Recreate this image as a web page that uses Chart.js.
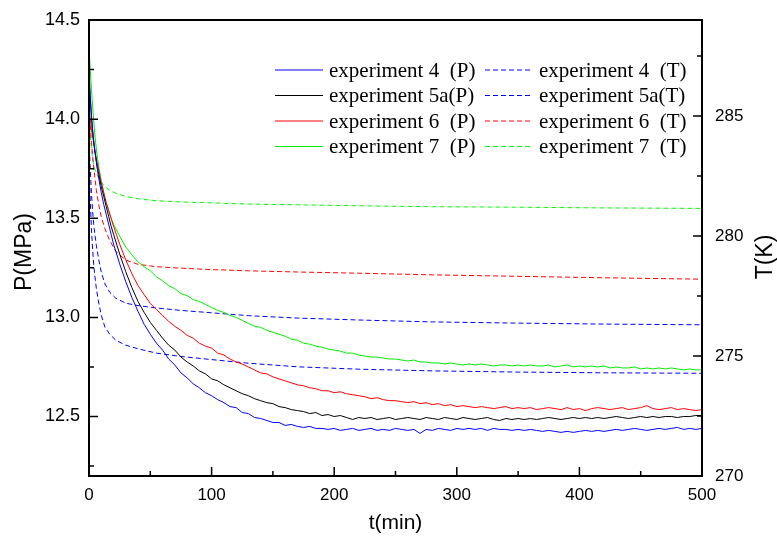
<!DOCTYPE html>
<html>
<head>
<meta charset="utf-8">
<script src="https://cdn.jsdelivr.net/npm/chart.js@4.4.1/dist/chart.umd.min.js"></script>
<style>
  body { margin: 0; background: #fff; }
  canvas { display: block; }
</style>
</head>
<body>
<canvas id="grafico" width="777" height="539"></canvas>
<script>
// tiempos de presion (min)
let tP = [0, 1, 2, 3, 4, 5, 6, 7, 8, 10, 12, 14, 16, 18,
  20, 25, 30, 35, 40, 45, 50, 55, 60, 65, 70, 75, 80, 85, 90, 95,
  100, 105, 110, 115, 120, 125, 130, 135, 140, 145, 150, 155, 160, 165, 170, 175, 180, 185, 190, 195,
  200, 205, 210, 215, 220, 225, 230, 235, 240, 245, 250, 255, 260, 265, 270, 275, 280, 285, 290, 295,
  300, 305, 310, 315, 320, 325, 330, 335, 340, 345, 350, 355, 360, 365, 370, 375, 380, 385, 390, 395,
  400, 405, 410, 415, 420, 425, 430, 435, 440, 445, 450, 455, 460, 465, 470, 475, 480, 485, 490, 495, 500];

// P (MPa)
let p4 = [14.25, 14.12, 14.02, 13.94, 13.88, 13.83, 13.78, 13.74, 13.70, 13.63, 13.57, 13.52, 13.47, 13.42,
  13.37, 13.27, 13.18, 13.10, 13.03, 12.965, 12.915, 12.87, 12.835, 12.79, 12.76, 12.72, 12.695, 12.665, 12.645, 12.62,
  12.605, 12.585, 12.57, 12.55, 12.545, 12.52, 12.515, 12.495, 12.49, 12.48, 12.47, 12.47, 12.455, 12.46, 12.45, 12.445, 12.45, 12.44, 12.44, 12.435,
  12.44, 12.43, 12.435, 12.44, 12.43, 12.435, 12.44, 12.43, 12.435, 12.43, 12.44, 12.435, 12.43, 12.435, 12.415, 12.435, 12.43, 12.44, 12.435, 12.43,
  12.44, 12.435, 12.44, 12.435, 12.44, 12.43, 12.44, 12.435, 12.435, 12.43, 12.435, 12.43, 12.435, 12.43, 12.425, 12.43, 12.425, 12.42, 12.425, 12.42,
  12.425, 12.43, 12.425, 12.43, 12.425, 12.43, 12.435, 12.43, 12.435, 12.44, 12.435, 12.43, 12.435, 12.44, 12.435, 12.44, 12.445, 12.435, 12.44, 12.435, 12.44];

let p5a = [14.20, 14.10, 14.01, 13.94, 13.88, 13.83, 13.79, 13.75, 13.72, 13.66, 13.61, 13.56, 13.51, 13.46,
  13.42, 13.32, 13.23, 13.15, 13.08, 13.025, 12.975, 12.935, 12.895, 12.86, 12.835, 12.80, 12.775, 12.755, 12.73, 12.715,
  12.69, 12.68, 12.66, 12.645, 12.63, 12.615, 12.605, 12.59, 12.58, 12.57, 12.565, 12.55, 12.545, 12.535, 12.53, 12.525, 12.515, 12.52, 12.505, 12.51,
  12.50, 12.505, 12.495, 12.485, 12.495, 12.49, 12.495, 12.485, 12.49, 12.495, 12.485, 12.49, 12.495, 12.49, 12.485, 12.495, 12.49, 12.485, 12.495, 12.49,
  12.485, 12.495, 12.49, 12.485, 12.49, 12.495, 12.485, 12.48, 12.49, 12.485, 12.49, 12.485, 12.49, 12.485, 12.49, 12.495, 12.49, 12.485, 12.49, 12.495,
  12.49, 12.495, 12.49, 12.495, 12.49, 12.495, 12.50, 12.495, 12.49, 12.495, 12.50, 12.495, 12.50, 12.495, 12.50, 12.50, 12.495, 12.50, 12.50, 12.505, 12.505];

let p6 = [14.05, 14.00, 13.95, 13.91, 13.87, 13.83, 13.80, 13.77, 13.74, 13.68, 13.63, 13.58, 13.54, 13.50,
  13.46, 13.37, 13.29, 13.22, 13.16, 13.115, 13.07, 13.04, 13.01, 12.98, 12.955, 12.935, 12.91, 12.895, 12.87, 12.855,
  12.845, 12.82, 12.81, 12.79, 12.775, 12.765, 12.75, 12.735, 12.72, 12.715, 12.70, 12.69, 12.68, 12.67, 12.66, 12.655, 12.645, 12.64, 12.63, 12.63,
  12.62, 12.625, 12.615, 12.61, 12.605, 12.60, 12.59, 12.595, 12.585, 12.58, 12.58, 12.575, 12.57, 12.575, 12.565, 12.57, 12.56, 12.565, 12.555, 12.56,
  12.55, 12.555, 12.55, 12.545, 12.55, 12.545, 12.54, 12.545, 12.55, 12.54, 12.545, 12.54, 12.545, 12.535, 12.54, 12.545, 12.54, 12.535, 12.545, 12.535,
  12.54, 12.53, 12.54, 12.545, 12.54, 12.535, 12.54, 12.545, 12.535, 12.54, 12.545, 12.555, 12.54, 12.535, 12.54, 12.545, 12.535, 12.54, 12.535, 12.53, 12.535];

let p7 = [14.37, 14.25, 14.15, 14.06, 13.98, 13.91, 13.85, 13.80, 13.76, 13.69, 13.63, 13.58, 13.54, 13.50,
  13.47, 13.41, 13.355, 13.315, 13.28, 13.255, 13.235, 13.205, 13.185, 13.16, 13.145, 13.12, 13.11, 13.09, 13.08, 13.065,
  13.05, 13.035, 13.025, 13.01, 13.00, 12.985, 12.97, 12.955, 12.95, 12.935, 12.925, 12.915, 12.905, 12.89, 12.885, 12.87, 12.865, 12.855, 12.85, 12.84,
  12.835, 12.83, 12.82, 12.82, 12.81, 12.805, 12.80, 12.80, 12.795, 12.79, 12.79, 12.785, 12.78, 12.785, 12.775, 12.775, 12.77, 12.77, 12.765, 12.77,
  12.765, 12.76, 12.765, 12.76, 12.765, 12.76, 12.755, 12.76, 12.76, 12.755, 12.76, 12.755, 12.76, 12.755, 12.755, 12.76, 12.75, 12.755, 12.76, 12.75,
  12.755, 12.75, 12.755, 12.75, 12.755, 12.745, 12.75, 12.745, 12.745, 12.75, 12.74, 12.745, 12.74, 12.745, 12.74, 12.745, 12.74, 12.735, 12.74, 12.735, 12.735];

// tiempos de temperatura (min)
let tT = [0, 1, 2, 3, 4, 6, 8, 10, 13, 17, 22, 30, 40, 55, 75, 100, 130, 170, 220, 280, 350, 420, 500];

// T (K)
let T4 = [283.0, 281.5, 280.3, 279.4, 278.7, 277.8, 277.2, 276.7, 276.2, 275.9, 275.65, 275.45, 275.3, 275.12, 274.98, 274.85, 274.7, 274.55, 274.45, 274.38, 274.33, 274.3, 274.28];
let T5a = [284.0, 282.8, 281.8, 281.0, 280.4, 279.6, 279.0, 278.5, 278.0, 277.65, 277.4, 277.2, 277.1, 277.0, 276.9, 276.8, 276.68, 276.58, 276.5, 276.42, 276.37, 276.33, 276.3];
let T6 = [285.3, 284.6, 283.9, 283.3, 282.8, 281.9, 281.3, 280.8, 280.3, 279.8, 279.35, 279.0, 278.82, 278.72, 278.66, 278.6, 278.55, 278.5, 278.45, 278.38, 278.32, 278.26, 278.2];
let T7 = [285.2, 284.3, 283.6, 283.2, 282.9, 282.6, 282.4, 282.25, 282.05, 281.9, 281.78, 281.65, 281.55, 281.47, 281.42, 281.38, 281.33, 281.3, 281.26, 281.22, 281.2, 281.17, 281.15];

// ejes
let xTicks = [0, 100, 200, 300, 400, 500];
let xMinor = [50, 150, 250, 350, 450];
let pTicks = [12.5, 13.0, 13.5, 14.0, 14.5];
let pMinor = [12.25, 12.75, 13.25, 13.75, 14.25];
let tTicks = [270, 275, 280, 285];
let tMinor = [272.5, 277.5, 282.5, 287.5];

const juntar = (xs, ys) => xs.map((x, i) => ({ x: x, y: ys[i] }));

const serie = (label, xs, ys, color, eje, dash) => ({
    label: label,
    data: juntar(xs, ys),
    borderColor: color,
    backgroundColor: color,
    borderWidth: 1,
    borderDash: dash,
    pointRadius: 0,
    tension: 0,
    fill: false,
    yAxisID: eje
});

const marco = {
    id: 'marco',
    afterDraw(chart) {
        const ctx = chart.ctx;
        const a = chart.chartArea;
        const sx = chart.scales.x, sy = chart.scales.y, sy1 = chart.scales.y1;
        ctx.save();
        ctx.strokeStyle = '#000';
        ctx.lineWidth = 2;
        ctx.strokeRect(a.left, a.top, a.right - a.left, a.bottom - a.top);

        ctx.lineWidth = 1.5;
        ctx.beginPath();
        xTicks.forEach(v => { let px = sx.getPixelForValue(v); ctx.moveTo(px, a.bottom); ctx.lineTo(px, a.bottom - 9); });
        xMinor.forEach(v => { let px = sx.getPixelForValue(v); ctx.moveTo(px, a.bottom); ctx.lineTo(px, a.bottom - 5); });
        pTicks.forEach(v => { let py = sy.getPixelForValue(v); ctx.moveTo(a.left, py); ctx.lineTo(a.left + 9, py); });
        pMinor.forEach(v => { let py = sy.getPixelForValue(v); ctx.moveTo(a.left, py); ctx.lineTo(a.left + 5, py); });
        tTicks.forEach(v => { let py = sy1.getPixelForValue(v); ctx.moveTo(a.right, py); ctx.lineTo(a.right - 9, py); });
        tMinor.forEach(v => { let py = sy1.getPixelForValue(v); ctx.moveTo(a.right, py); ctx.lineTo(a.right - 5, py); });
        ctx.stroke();

        // titulos de ejes
        ctx.fillStyle = '#000';
        ctx.textAlign = 'center';
        ctx.textBaseline = 'middle';
        ctx.font = "21px 'Liberation Sans', Arial, sans-serif";
        ctx.fillText('t(min)', (a.left + a.right) / 2, 523);
        ctx.font = "23px 'Liberation Sans', Arial, sans-serif";
        ctx.save();
        ctx.translate(25, 252);
        ctx.rotate(-Math.PI / 2);
        ctx.fillText('P(MPa)', 0, 0);
        ctx.restore();
        ctx.save();
        ctx.translate(766, 257);
        ctx.rotate(-Math.PI / 2);
        ctx.fillText('T(K)', 0, 0);
        ctx.restore();

        // leyenda en dos columnas
        ctx.font = "21px 'Liberation Serif', 'Times New Roman', serif";
        ctx.textAlign = 'left';
        let filas = [70, 95.5, 121, 146.5];
        chart.data.datasets.forEach((d, i) => {
            let col = i < 4 ? 0 : 1;
            let y = filas[i % 4];
            let x0 = col === 0 ? 275 : 485;
            ctx.strokeStyle = d.borderColor;
            ctx.lineWidth = 1;
            ctx.setLineDash(d.borderDash || []);
            ctx.beginPath();
            ctx.moveTo(x0, y);
            ctx.lineTo(x0 + 48, y);
            ctx.stroke();
            ctx.setLineDash([]);
            ctx.fillText(d.label, x0 + 54, y + 1);
        });
        ctx.restore();
    }
};

const fuenteTick = { family: "'Liberation Sans', Arial, sans-serif", size: 18 };

new Chart(document.getElementById('grafico'), {
    type: 'line',
    data: {
        datasets: [
            serie('experiment 4  (P)', tP, p4, '#0000ff', 'y', []),
            serie('experiment 5a(P)', tP, p5a, '#000000', 'y', []),
            serie('experiment 6  (P)', tP, p6, '#ff0000', 'y', []),
            serie('experiment 7  (P)', tP, p7, '#00ee00', 'y', []),
            serie('experiment 4  (T)', tT, T4, '#0000ff', 'y1', [5, 3]),
            serie('experiment 5a(T)', tT, T5a, '#0000ff', 'y1', [5, 3]),
            serie('experiment 6  (T)', tT, T6, '#ff0000', 'y1', [5, 3]),
            serie('experiment 7  (T)', tT, T7, '#00ff00', 'y1', [5, 3])
        ]
    },
    options: {
        responsive: false,
        animation: false,
        devicePixelRatio: 1,
        layout: { padding: { top: 20, left: 0, right: 0, bottom: 0 } },
        plugins: { legend: { display: false }, tooltip: { enabled: false } },
        scales: {
            x: {
                type: 'linear', min: 0, max: 500,
                grid: { display: false, drawTicks: false },
                border: { display: false },
                afterBuildTicks: s => { s.ticks = xTicks.map(v => ({ value: v })); },
                ticks: { color: '#000', font: { family: fuenteTick.family, size: 17 }, padding: 9, maxRotation: 0 },
                afterFit: s => { s.height = 63; s.paddingLeft = 0; s.paddingRight = 0; }
            },
            y: {
                type: 'linear', position: 'left', min: 12.2, max: 14.5,
                grid: { display: false, drawTicks: false },
                border: { display: false },
                afterBuildTicks: s => { s.ticks = pTicks.map(v => ({ value: v })); },
                ticks: { color: '#000', font: fuenteTick, padding: 9, callback: v => v.toFixed(1) },
                afterFit: s => { s.width = 89; s.paddingTop = 0; s.paddingBottom = 0; }
            },
            y1: {
                type: 'linear', position: 'right', min: 270, max: 289,
                grid: { display: false, drawTicks: false },
                border: { display: false },
                afterBuildTicks: s => { s.ticks = tTicks.map(v => ({ value: v })); },
                ticks: { color: '#000', font: { family: fuenteTick.family, size: 17 }, padding: 13 },
                afterFit: s => { s.width = 75; s.paddingTop = 0; s.paddingBottom = 0; }
            }
        }
    },
    plugins: [marco]
});
</script>
</body>
</html>
